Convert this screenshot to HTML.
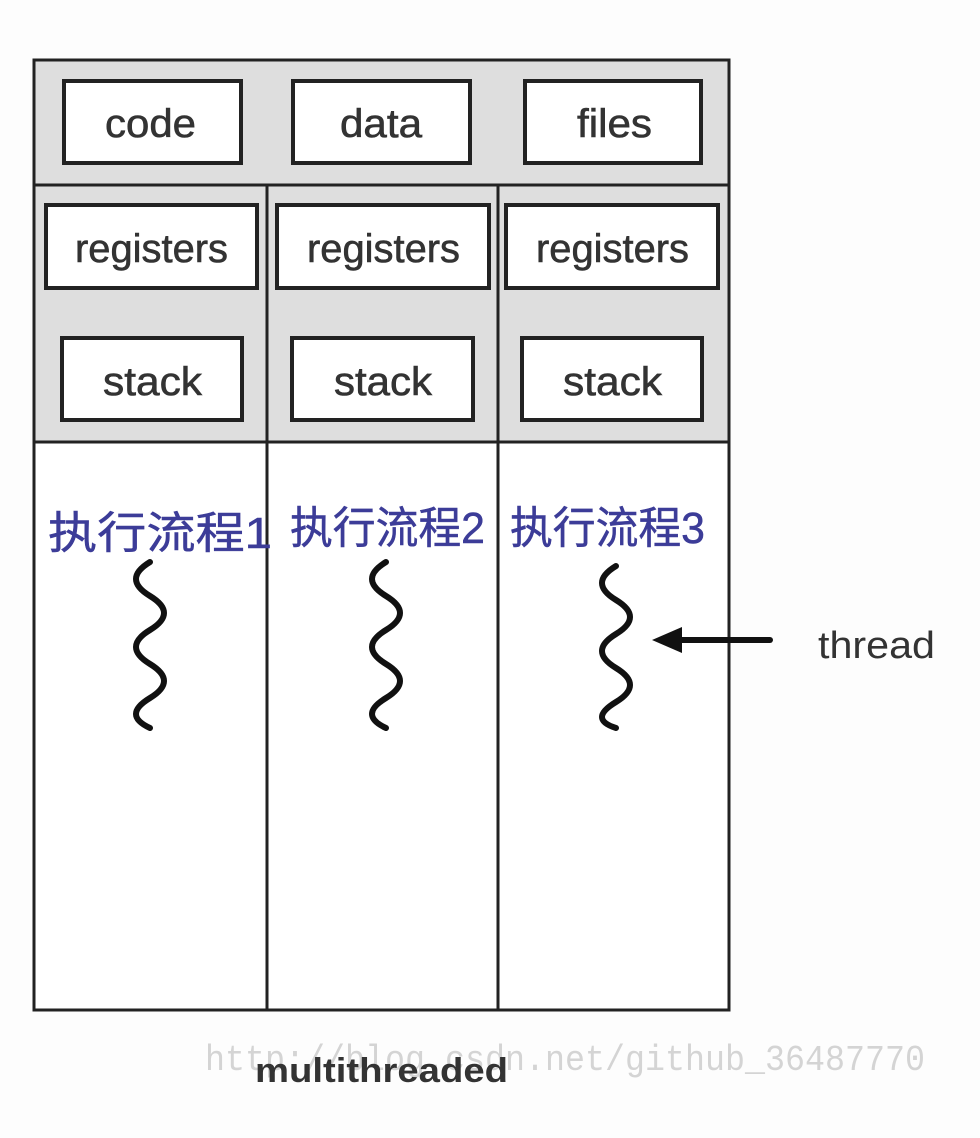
<!DOCTYPE html>
<html><head><meta charset="utf-8"><style>
body{margin:0;background:#fff;}
svg{display:block}
</style></head><body>
<svg width="980" height="1138" viewBox="0 0 980 1138" xmlns="http://www.w3.org/2000/svg">
<rect x="0" y="0" width="980" height="1138" fill="#fdfdfd"/>
<rect x="34" y="60" width="695" height="382" fill="#dedede"/>
<rect x="34" y="442" width="695" height="568" fill="#fff"/>
<g stroke="#222" stroke-width="3" fill="none">
<rect x="34" y="60" width="695" height="950"/>
<line x1="34" y1="185" x2="729" y2="185"/>
<line x1="34" y1="442" x2="729" y2="442"/>
<line x1="267" y1="185" x2="267" y2="1010"/>
<line x1="498" y1="185" x2="498" y2="1010"/>
</g>
<g stroke="#222" stroke-width="4" fill="#fff">
<rect x="64" y="81" width="177" height="82"/>
<rect x="293" y="81" width="177" height="82"/>
<rect x="525" y="81" width="176" height="82"/>
<rect x="46" y="205" width="211" height="83"/>
<rect x="277" y="205" width="212" height="83"/>
<rect x="506" y="205" width="212" height="83"/>
<rect x="62" y="338" width="180" height="82"/>
<rect x="292" y="338" width="181" height="82"/>
<rect x="522" y="338" width="180" height="82"/>
</g>
<g font-family="Liberation Sans, sans-serif" font-size="40" fill="#333" stroke="#333" stroke-width="0.6" lengthAdjust="spacingAndGlyphs">
<text x="105" y="137" textLength="91" lengthAdjust="spacingAndGlyphs">code</text>
<text x="340" y="137" textLength="82" lengthAdjust="spacingAndGlyphs">data</text>
<text x="577" y="137" textLength="75" lengthAdjust="spacingAndGlyphs">files</text>
<text x="75" y="262" textLength="153" lengthAdjust="spacingAndGlyphs">registers</text>
<text x="307" y="262" textLength="153" lengthAdjust="spacingAndGlyphs">registers</text>
<text x="536" y="262" textLength="153" lengthAdjust="spacingAndGlyphs">registers</text>
<text x="103" y="395" textLength="99" lengthAdjust="spacingAndGlyphs">stack</text>
<text x="334" y="395" textLength="98" lengthAdjust="spacingAndGlyphs">stack</text>
<text x="563" y="395" textLength="99" lengthAdjust="spacingAndGlyphs">stack</text>
</g>
<g font-family="Liberation Sans, Noto Sans CJK SC, sans-serif" font-size="44" fill="#3c3c98" stroke="#3c3c98" stroke-width="0.5">
<text x="48" y="548" textLength="224" lengthAdjust="spacingAndGlyphs">执行流程1</text>
<text x="290" y="543" textLength="195" lengthAdjust="spacingAndGlyphs">执行流程2</text>
<text x="510" y="543" textLength="195" lengthAdjust="spacingAndGlyphs">执行流程3</text>
</g>
<g stroke="#111" stroke-width="6" fill="none" stroke-linecap="round">
<path d="M150,562 Q122,579 150,596 T150,630 T150,664 T150,698 T150,728"/>
<path d="M386,562 Q358,579 386,596 T386,630 T386,664 T386,698 T386,728"/>
<path d="M616,566 Q588,583 616,600 T616,634 T616,668 T616,702 T616,728"/>
<line x1="675" y1="640" x2="770" y2="640"/>
</g>
<polygon points="652,640 682,627 682,653" fill="#111"/>
<text x="818" y="658" font-family="Liberation Sans, sans-serif" font-size="38" fill="#333" textLength="117" lengthAdjust="spacingAndGlyphs">thread</text>
<text x="205" y="1070" font-family="Liberation Mono, monospace" font-size="36" fill="#d4d4d4" textLength="720" lengthAdjust="spacingAndGlyphs">http://blog.csdn.net/github_36487770</text>
<text x="255" y="1082" font-family="Liberation Sans, sans-serif" font-size="34" font-weight="bold" fill="#333" textLength="253" lengthAdjust="spacingAndGlyphs">multithreaded</text>
</svg>
</body></html>
